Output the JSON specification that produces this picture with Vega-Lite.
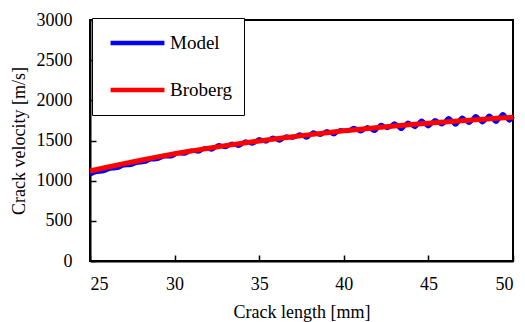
{
  "$schema": "https://vega.github.io/schema/vega-lite/v6.json",
  "width": 423,
  "height": 241,
  "autosize": "none",
  "padding": {"left": 90, "top": 20, "right": 12, "bottom": 61},
  "background": "white",
  "config": {
    "font": "Times New Roman, serif",
    "view": {"stroke": "black", "strokeWidth": 2},
    "axis": {
      "labelFont": "Times New Roman, serif",
      "titleFont": "Times New Roman, serif",
      "labelFontSize": 18,
      "titleFontSize": 18,
      "titleFontWeight": "normal",
      "labelColor": "black",
      "titleColor": "black",
      "domainColor": "black",
      "domainWidth": 2,
      "tickColor": "black",
      "tickWidth": 1.5,
      "grid": false
    }
  },
  "datasets": {
    "model": [
      {"x": 25.0, "v": 1075}, {"x": 25.4, "v": 1109}, {"x": 25.8, "v": 1116}, {"x": 26.2, "v": 1148},
      {"x": 26.6, "v": 1156}, {"x": 27.0, "v": 1187}, {"x": 27.4, "v": 1194}, {"x": 27.8, "v": 1224},
      {"x": 28.2, "v": 1231}, {"x": 28.6, "v": 1262}, {"x": 29.0, "v": 1268}, {"x": 29.4, "v": 1302},
      {"x": 29.8, "v": 1302}, {"x": 30.2, "v": 1342}, {"x": 30.6, "v": 1334}, {"x": 31.0, "v": 1375},
      {"x": 31.4, "v": 1359}, {"x": 31.8, "v": 1407}, {"x": 32.2, "v": 1385}, {"x": 32.6, "v": 1443},
      {"x": 33.0, "v": 1416}, {"x": 33.4, "v": 1463}, {"x": 33.8, "v": 1430}, {"x": 34.2, "v": 1492},
      {"x": 34.6, "v": 1459}, {"x": 35.0, "v": 1520}, {"x": 35.4, "v": 1486}, {"x": 35.8, "v": 1537},
      {"x": 36.2, "v": 1497}, {"x": 36.6, "v": 1553}, {"x": 37.0, "v": 1533}, {"x": 37.4, "v": 1578},
      {"x": 37.8, "v": 1533}, {"x": 38.2, "v": 1603}, {"x": 38.6, "v": 1567}, {"x": 39.0, "v": 1617},
      {"x": 39.4, "v": 1576}, {"x": 39.8, "v": 1630}, {"x": 40.2, "v": 1614}, {"x": 40.6, "v": 1658},
      {"x": 41.0, "v": 1611}, {"x": 41.4, "v": 1669}, {"x": 41.8, "v": 1617}, {"x": 42.2, "v": 1695},
      {"x": 42.6, "v": 1652}, {"x": 43.0, "v": 1715}, {"x": 43.4, "v": 1642}, {"x": 43.8, "v": 1724},
      {"x": 44.2, "v": 1666}, {"x": 44.6, "v": 1748}, {"x": 45.0, "v": 1675}, {"x": 45.4, "v": 1756},
      {"x": 45.8, "v": 1698}, {"x": 46.2, "v": 1779}, {"x": 46.6, "v": 1696}, {"x": 47.0, "v": 1787},
      {"x": 47.4, "v": 1718}, {"x": 47.8, "v": 1804}, {"x": 48.2, "v": 1725}, {"x": 48.6, "v": 1810},
      {"x": 49.0, "v": 1731}, {"x": 49.4, "v": 1831}, {"x": 49.8, "v": 1747}, {"x": 50.0, "v": 1800}
    ],
    "broberg": [
      {"x": 25, "v": 1120}, {"x": 26, "v": 1167}, {"x": 27, "v": 1212}, {"x": 28, "v": 1255},
      {"x": 29, "v": 1296}, {"x": 30, "v": 1335}, {"x": 31, "v": 1370}, {"x": 32, "v": 1404},
      {"x": 33, "v": 1436}, {"x": 34, "v": 1466}, {"x": 35, "v": 1495}, {"x": 36, "v": 1522},
      {"x": 37, "v": 1548}, {"x": 38, "v": 1573}, {"x": 39, "v": 1597}, {"x": 40, "v": 1620},
      {"x": 41, "v": 1641}, {"x": 42, "v": 1661}, {"x": 43, "v": 1680}, {"x": 44, "v": 1698},
      {"x": 45, "v": 1715}, {"x": 46, "v": 1731}, {"x": 47, "v": 1747}, {"x": 48, "v": 1762},
      {"x": 49, "v": 1776}, {"x": 50, "v": 1790}
    ]
  },
  "encoding": {
    "x": {
      "field": "x", "type": "quantitative",
      "scale": {"domain": [25, 50], "nice": false},
      "axis": {"values": [25, 30, 35, 40, 45, 50], "format": "d", "tickSize": -6, "labelPadding": 20, "labelFont": "Times New Roman, serif", "title": "Crack length [mm]", "titlePadding": 10}
    },
    "y": {
      "field": "v", "type": "quantitative",
      "scale": {"domain": [0, 3000], "nice": false},
      "axis": {"values": [0, 500, 1000, 1500, 2000, 2500, 3000], "format": "d", "tickSize": -6, "labelPadding": 24, "labelFont": "Times New Roman, serif", "title": "Crack velocity [m/s]", "titlePadding": 8}
    },
    "color": {
      "field": "s", "type": "nominal",
      "scale": {"domain": ["Model", "Broberg"], "range": ["#0000ff", "#ff0000"]},
      "legend": {
        "title": null,
        "orient": "none",
        "legendX": 2,
        "legendY": -2,
        "strokeColor": "black",
        "padding": 12,
        "symbolType": "stroke",
        "symbolSize": 2900,
        "symbolStrokeWidth": 4.5,
        "symbolOffset": 4,
        "clipHeight": 26,
        "labelFont": "Times New Roman, serif",
        "labelFontSize": 19,
        "labelColor": "black",
        "rowPadding": 21,
        "labelOffset": 3,
        "fillColor": "white"
      }
    }
  },
  "layer": [
    {
      "data": {"name": "model"},
      "transform": [{"calculate": "'Model'", "as": "s"}],
      "mark": {"type": "line", "strokeWidth": 4, "interpolate": "monotone"}
    },
    {
      "data": {"name": "broberg"},
      "transform": [{"calculate": "'Broberg'", "as": "s"}],
      "mark": {"type": "line", "strokeWidth": 5, "interpolate": "monotone"}
    }
  ]
}
